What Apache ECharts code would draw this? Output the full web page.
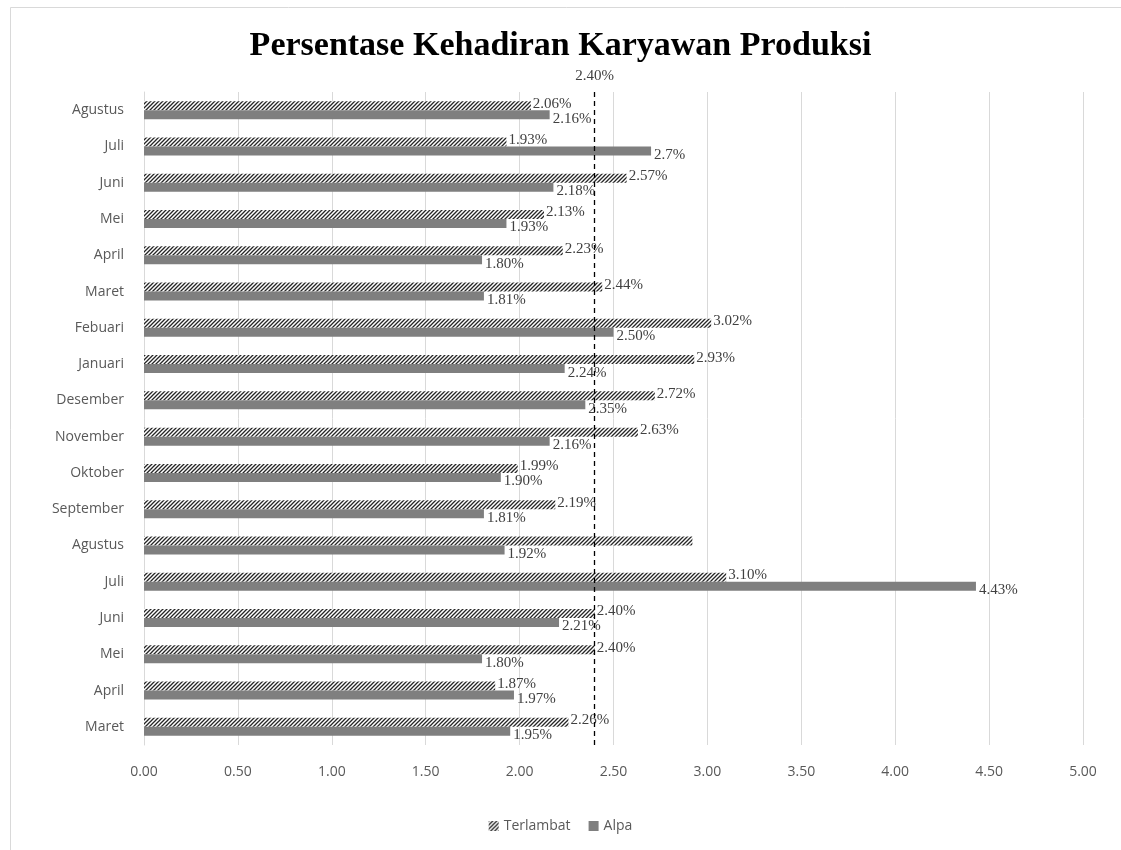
<!DOCTYPE html>
<html>
<head>
<meta charset="utf-8">
<script src="https://cdn.jsdelivr.net/npm/echarts@6/dist/echarts.min.js"></script>
<style>
html,body{margin:0;padding:0;background:#fff;}
#c{width:1121px;height:850px;}
</style>
</head>
<body>
<div id="c"></div>
<script>
// Categories bottom to top
var categories = ['Maret','April','Mei','Juni','Juli','Agustus','September','Oktober','November','Desember','Januari','Febuari','Maret','April','Mei','Juni','Juli','Agustus'];
var terlambat = [2.26, 1.87, 2.40, 2.40, 3.10, 2.92, 2.19, 1.99, 2.63, 2.72, 2.93, 3.02, 2.44, 2.23, 2.13, 2.57, 1.93, 2.06];
var terlambatLabels = ['2.26%','1.87%','2.40%','2.40%','3.10%','','2.19%','1.99%','2.63%','2.72%','2.93%','3.02%','2.44%','2.23%','2.13%','2.57%','1.93%','2.06%'];
var alpa = [1.95, 1.97, 1.80, 2.21, 4.43, 1.92, 1.81, 1.90, 2.16, 2.35, 2.24, 2.50, 1.81, 1.80, 1.93, 2.18, 2.70, 2.16];
var alpaLabels = ['1.95%','1.97%','1.80%','2.21%','4.43%','1.92%','1.81%','1.90%','2.16%','2.35%','2.24%','2.50%','1.81%','1.80%','1.93%','2.18%','2.7%','2.16%'];
var targetValue = 2.40;
var targetLabel = '2.40%';

function hatch() {
  var c = document.createElement('canvas');
  c.width = 4; c.height = 4;
  var g = c.getContext('2d');
  g.fillStyle = '#ffffff';
  g.fillRect(0, 0, 4, 4);
  g.strokeStyle = '#262626';
  g.lineWidth = 1.3;
  g.beginPath();
  g.moveTo(-1, 5); g.lineTo(5, -1);
  g.moveTo(-1, 1); g.lineTo(1, -1);
  g.moveTo(3, 5); g.lineTo(5, 3);
  g.stroke();
  return c;
}
var pattern = { image: hatch(), repeat: 'repeat' };

var serif = '"Liberation Serif", "Times New Roman", serif';
var sans = '"Open Sans", "Noto Sans", sans-serif';

var chart = echarts.init(document.getElementById('c'), null, { renderer: 'canvas' });
chart.setOption({
  backgroundColor: '#ffffff',
  animation: false,
  graphic: [{
    type: 'rect', left: 8, top: 5,
    shape: { width: 1120, height: 850 },
    style: { fill: 'none', stroke: '#d9d9d9', lineWidth: 1 }
  }],
  title: {
    text: 'Persentase Kehadiran Karyawan Produksi',
    left: 'center', top: 24,
    textStyle: { fontFamily: serif, fontWeight: 'bold', fontSize: 34, color: '#000' }
  },
  legend: {
    bottom: 12, left: 'center',
    data: ['Terlambat', 'Alpa'],
    itemWidth: 10, itemHeight: 10, itemGap: 18,
    icon: 'rect',
    textStyle: { fontFamily: sans, fontSize: 14, color: '#595959' }
  },
  grid: { left: 144, right: 38, top: 92, bottom: 105, containLabel: false },
  xAxis: {
    type: 'value', min: 0, max: 5, interval: 0.5,
    axisLine: { show: false }, axisTick: { show: false },
    splitLine: { lineStyle: { color: '#d9d9d9', width: 1 } },
    axisLabel: { formatter: function (v) { return v.toFixed(2); }, fontFamily: sans, fontSize: 14, color: '#595959', margin: 20 }
  },
  yAxis: {
    type: 'category', data: categories,
    axisLine: { show: true, lineStyle: { color: '#d9d9d9' } },
    axisTick: { show: false },
    axisLabel: { fontFamily: sans, fontSize: 14, color: '#595959', margin: 20 }
  },
  series: [{
    name: 'Terlambat', type: 'bar', barWidth: 9, barGap: '0%',
    itemStyle: { color: pattern },
    data: terlambat.map(function (v, i) {
      return { value: v, label: { show: terlambatLabels[i] !== '', formatter: terlambatLabels[i] } };
    }),
    label: { show: true, position: 'right', distance: 2, offset: [0, -2], fontFamily: serif, fontSize: 15, color: '#404040' },
    markLine: {
      silent: true, symbol: 'none',
      lineStyle: { type: [5, 4], color: '#000', width: 1.3 },
      label: { formatter: targetLabel, position: 'end', distance: 8, fontFamily: serif, fontSize: 15, color: '#404040' },
      data: [{ xAxis: targetValue }]
    }
  }, {
    name: 'Alpa', type: 'bar', barWidth: 9, barGap: '0%',
    itemStyle: { color: '#7f7f7f' },
    data: alpa.map(function (v, i) {
      return { value: v, label: { formatter: alpaLabels[i] } };
    }),
    label: { show: true, position: 'right', distance: 3, offset: [0, 4], fontFamily: serif, fontSize: 15, color: '#404040' }
  }]
});
</script>
</body>
</html>
